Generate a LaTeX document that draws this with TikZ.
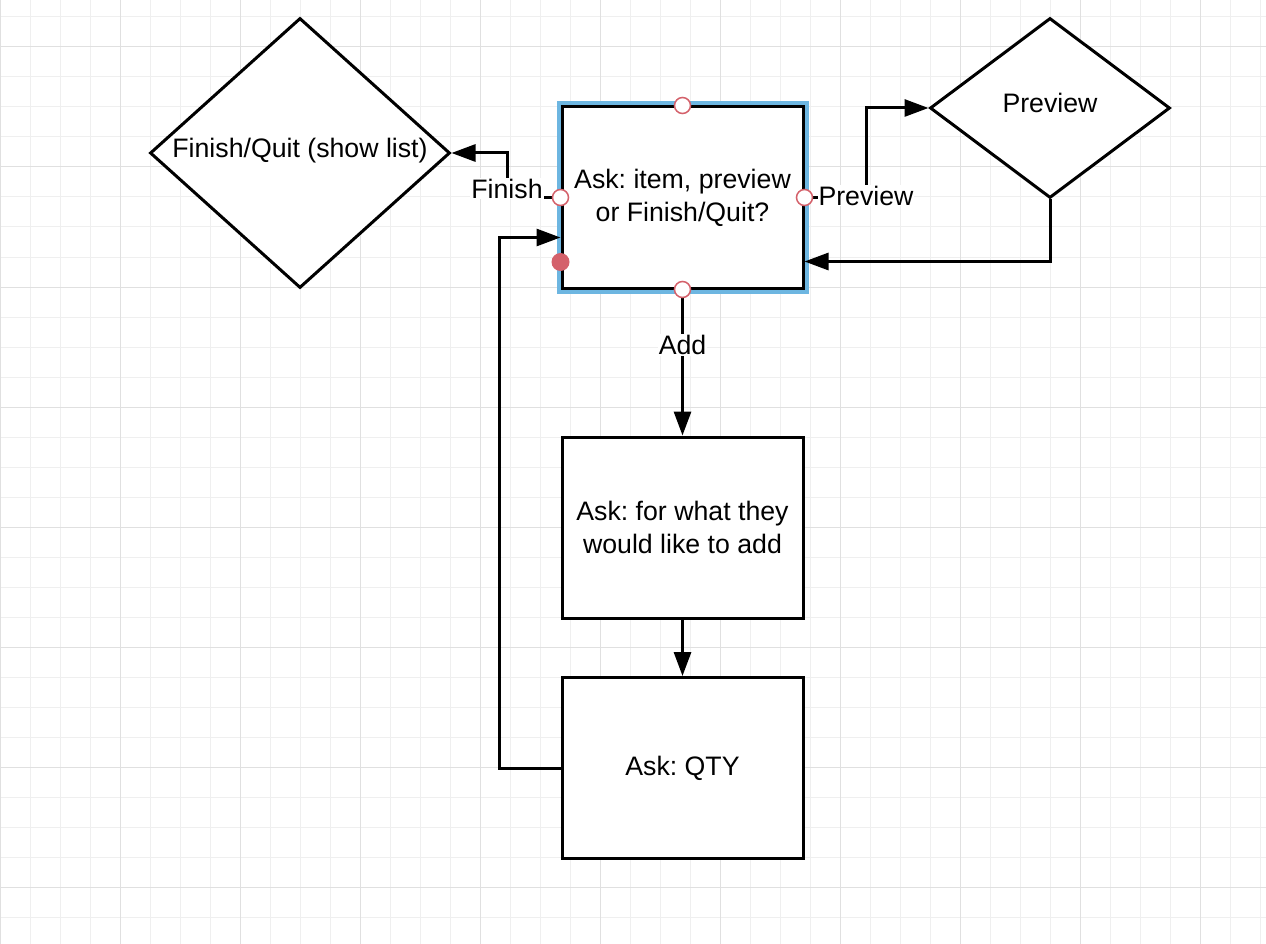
\documentclass[tikz,border=0pt]{standalone}
\usepackage{fontspec}
\setmainfont{Liberation Sans}
\usetikzlibrary{shapes.geometric,arrows.meta,positioning}
\definecolor{gridminor}{HTML}{EFEFEF}
\definecolor{gridmajor}{HTML}{E0E0E0}
\definecolor{selblue}{HTML}{6DB6E1}
\definecolor{handlered}{HTML}{D4616B}
\frenchspacing
\tikzset{box/.style={draw,line width=3pt,fill=white,minimum width=241pt,minimum height=181pt,align=center,inner sep=0pt},
  choice/.style={diamond,draw,line width=3pt,fill=white,inner sep=0pt},
  flow/.style={line width=3pt,-{Triangle[length=24pt,width=17pt]}},
  lbl/.style={fill=white,inner sep=1pt},
  handle/.style={circle,draw=handlered,fill=white,line width=1.5pt,minimum size=16pt,inner sep=0pt}}

\begin{document}
\begin{tikzpicture}[x=1pt,y=-1pt,font=\fontsize{26.7}{33}\selectfont]
            \useasboundingbox[fill=white] (0,0) rectangle (1266,944);
            \foreach \x in {0,30,...,1260} {
                \draw[gridminor,line width=1pt] (\x,0) -- (\x,944);
            }
            \foreach \y in {17,47,...,944} {
                \draw[gridminor,line width=1pt] (0,\y) -- (1266,\y);
            }
            \foreach \x in {0,120,...,1200} {
                \draw[gridmajor,line width=1pt] (\x,0) -- (\x,944);
            }
            \foreach \y in {47,167,...,944} {
                \draw[gridmajor,line width=1pt] (0,\y) -- (1266,\y);
            }
            \node[box] (ask) at (682.5,197.5) {Ask: item, preview\\or Finish/Quit?};
            \node[box] (item) at (682.5,527.5) {Ask: for what they\\would like to add};
            \node[box] (qty) at (682.5,768) {Ask: QTY};
            \node[choice,minimum width=300pt,minimum height=270pt,
                label={[yshift=2pt]center:Finish/Quit (show list)}] (fin) at (300,153) {};
            \node[choice,minimum width=240pt,minimum height=180pt,
                label={[yshift=5pt]center:Preview}] (prev) at (1050,108) {};
            \draw[selblue,line width=4pt] ([shift={(-2pt,2pt)}]ask.north west)
                rectangle ([shift={(2pt,-2pt)}]ask.south east);
            \coordinate (finbend) at (507,153);
            \coordinate (prevbend) at (866,108);
            \draw[flow] (ask.west) -| node[lbl,yshift=9pt]{Finish} (finbend) -- (fin.east);
            \draw[flow] (ask.east) -| node[lbl,yshift=2pt]{Preview} (prevbend) -- (prev.west);
            \draw[flow] (prev.south) |- ([yshift=28pt]ask.south east);
            \draw[flow] (ask.south) -- node[lbl,pos=0.38]{Add} (item.north);
            \draw[flow] (item.south) -- (qty.north);
            \draw[flow] (qty.west) -- ++(-61,0) |- ([yshift=-40pt]ask.west);
            \foreach \a in {north,south,west,east} {
                \node[handle] (h-\a) at (ask.\a) {};
            }
            \node[circle,fill=handlered,minimum size=18pt,inner sep=0pt] (hdot) at ([yshift=-64.5pt]ask.west) {};
        \end{tikzpicture}
\end{document}
